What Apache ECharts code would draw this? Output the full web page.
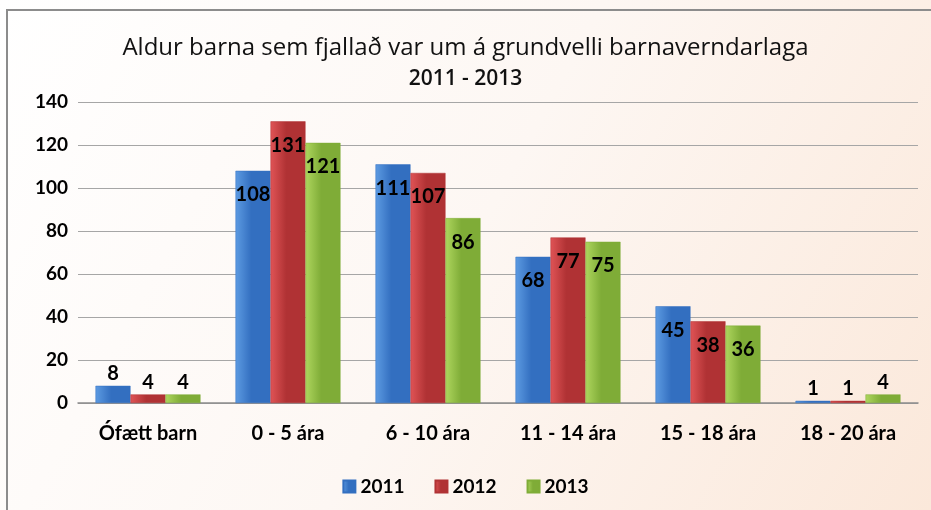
<!DOCTYPE html>
<html>
<head>
<meta charset="utf-8">
<script src="https://cdn.jsdelivr.net/npm/echarts@6/dist/echarts.min.js"></script>
<style>
  html, body { margin: 0; padding: 0; background: #fff; }
  #main { width: 931px; height: 510px; }
</style>
</head>
<body>
<div id="main"></div>
<script>
var categories = ['Ófætt barn', '0 - 5 ára', '6 - 10 ára', '11 - 14 ára', '15 - 18 ára', '18 - 20 ára'];
var years = ['2011', '2012', '2013'];
var v2011 = [8, 108, 111, 68, 45, 1];
var v2012 = [4, 131, 107, 77, 38, 1];
var v2013 = [4, 121, 86, 75, 36, 4];
var yTicks = [0, 20, 40, 60, 80, 100, 120, 140];

// colours: light edge -> dark edge, for a bit of the 3D look
var colors = [
  ['#5d9be2', '#336fc0'],
  ['#e05456', '#b03234'],
  ['#aed65e', '#7fac37']
];

function grad(c) {
  return new echarts.graphic.LinearGradient(0, 0, 1, 0, [
    { offset: 0, color: c[0] },
    { offset: 0.45, color: c[1] },
    { offset: 1, color: c[1] }
  ]);
}

function makeData(vals) {
  // small bars get their label above, big ones inside at the top
  return vals.map(function (v) {
    return { value: v, label: { position: v < 10 ? 'top' : 'insideTop', distance: v < 10 ? 2 : 14 } };
  });
}

var chart = echarts.init(document.getElementById('main'));
var allVals = [v2011, v2012, v2013];
var series = years.map(function (y, i) {
  return {
    name: y,
    type: 'bar',
    barGap: 0,
    barCategoryGap: '25%',
    data: makeData(allVals[i]),
    itemStyle: { color: grad(colors[i]), borderColor: colors[i][1], borderWidth: 0.5 },
    label: {
      show: true,
      color: '#000',
      fontFamily: 'Lato',
      fontWeight: 'bold',
      fontSize: 20
    }
  };
});

var option = {
  backgroundColor: new echarts.graphic.LinearGradient(0, 0, 1, 1, [
    { offset: 0, color: '#ffffff' },
    { offset: 0.5, color: '#fdf7f3' },
    { offset: 1, color: '#fbe8da' }
  ]),
  color: [colors[0][1], colors[1][1], colors[2][1]],
  graphic: [{
    type: 'rect',
    shape: { x: 7, y: 10, width: 940, height: 520 },
    style: { fill: 'none', stroke: '#8c8c8c', lineWidth: 2 },
    silent: true
  }],
  title: [{
    text: 'Aldur barna sem fjallað var um á grundvelli barnaverndarlaga',
    left: 'center',
    top: 31,
    textStyle: { fontFamily: 'Open Sans', fontWeight: 'normal', fontSize: 24, color: '#111' }
  }, {
    text: '2011 - 2013',
    left: 'center',
    top: 64,
    textStyle: { fontFamily: 'Open Sans', fontWeight: 600, fontSize: 21, color: '#111' }
  }],
  legend: {
    data: years,
    bottom: 9,
    left: 'center',
    itemWidth: 12,
    itemHeight: 12,
    itemGap: 30,
    icon: 'rect',
    textStyle: { fontFamily: 'Lato', fontWeight: 'bold', fontSize: 19, color: '#000' }
  },
  grid: { left: 78, right: 13, top: 102, bottom: 107 },
  xAxis: {
    type: 'category',
    data: categories,
    axisTick: { show: false },
    axisLine: { lineStyle: { color: '#8c8c8c', width: 1.5 } },
    axisLabel: { margin: 21, color: '#000', fontFamily: 'Lato', fontWeight: 'bold', fontSize: 20 }
  },
  yAxis: {
    type: 'value',
    min: yTicks[0],
    max: yTicks[yTicks.length - 1],
    interval: yTicks[1] - yTicks[0],
    axisLine: { show: false },
    axisTick: { show: false },
    splitLine: { lineStyle: { color: '#a6a6a6', width: 1 } },
    axisLabel: { margin: 10, color: '#000', fontFamily: 'Lato', fontWeight: 'bold', fontSize: 19 }
  },
  series: series
};
chart.setOption(option);
</script>
</body>
</html>
